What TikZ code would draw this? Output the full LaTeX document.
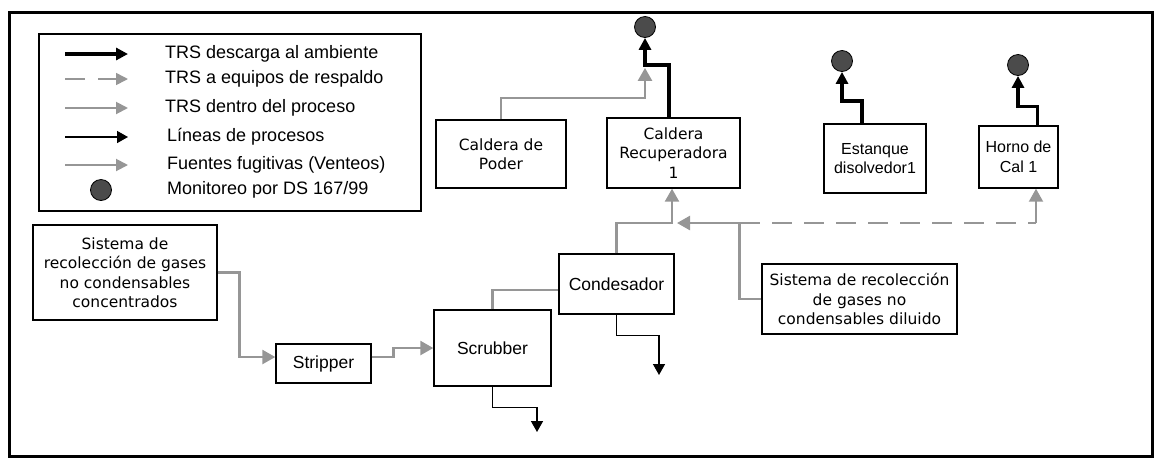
\documentclass[tikz,border=0pt]{standalone}
\usepackage{fontspec}
\setmainfont{Liberation Sans}
\newfontfamily\vfont{DejaVu Sans}
\usetikzlibrary{arrows.meta,calc}
\definecolor{gline}{RGB}{150,150,150}
\definecolor{monc}{RGB}{75,75,75}
\begin{document}
\begin{tikzpicture}[x=1pt,y=-1pt,
  box/.style={draw,line width=1.4pt,inner sep=0pt,align=center},
  vtxt/.style={font=\vfont\fontsize{15.5}{19.5}\selectfont},
  atxt/.style={font=\fontsize{17.5}{20}\selectfont},
  etxt/.style={font=\fontsize{16}{19.5}\selectfont},
  ltxt/.style={font=\fontsize{18}{20}\selectfont,anchor=west,inner sep=0pt},
  monitor/.style={circle,draw=black,line width=0.8pt,fill=monc,minimum size=21pt,inner sep=0pt},
  bk/.style={line width=3.5pt,black,-{Triangle[length=12pt,width=12pt]}},
  gp/.style={line width=2.5pt,gline,-{Triangle[length=13pt,width=14pt]}},
  gpn/.style={line width=2.5pt,gline},
  gd/.style={line width=2pt,gline,dash pattern=on 20pt off 12pt},
  pl/.style={line width=1.5pt,black,-{Triangle[length=11pt,width=12pt]}},
]
\useasboundingbox (0,0) rectangle (1156,459);
\draw[line width=3pt] (9,12) rectangle (1152,456);

% legend
\node[draw,line width=1.8pt,minimum width=382pt,minimum height=177pt,inner sep=0pt] (leg) at (230,122.5) {};
\coordinate (l1a) at (65,54);  \coordinate (l1b) at (128,54);
\coordinate (l2a) at (65,79);  \coordinate (l2b) at (128,79);
\coordinate (l3a) at (65,108); \coordinate (l3b) at (128,108);
\coordinate (l4a) at (65,137); \coordinate (l4b) at (128,137);
\coordinate (l5a) at (65,165); \coordinate (l5b) at (128,165);
\draw[bk] (l1a) -- (l1b);
\draw[line width=1.6pt,gline] (l2a) -- ++(20,0);
\draw[line width=1.6pt,gline,-{Triangle[length=12pt,width=12pt]}] ($(l2a)+(33,0)$) -- (l2b);
\draw[line width=2pt,gline,-{Triangle[length=12pt,width=12pt]}] (l3a) -- (l3b);
\draw[pl] (l4a) -- (l4b);
\draw[line width=2pt,gline,-{Triangle[length=12pt,width=12pt]}] (l5a) -- (l5b);
\node[monitor] (lm) at (101,190) {};
\node[ltxt] (t1) at (165,54) {TRS descarga al ambiente};
\node[ltxt] (t2) at (165,79) {TRS a equipos de respaldo};
\node[ltxt] (t3) at (165,108) {TRS dentro del proceso};
\node[ltxt] (t4) at (167,137) {Líneas de procesos};
\node[ltxt] (t5) at (167,165) {Fuentes fugitivas (Venteos)};
\node[ltxt] (t6) at (167,190) {Monitoreo por DS 167/99};

% boxes
\node[box,vtxt,minimum width=130pt,minimum height=68pt] (cdp) at (501,154) {Caldera de\\Poder};
\node[box,vtxt,minimum width=133pt,minimum height=70pt] (crec) at (673.5,153) {Caldera\\Recuperadora\\1};
\node[box,etxt,minimum width=102pt,minimum height=69pt] (est) at (875,158.5) {Estanque\\disolvedor1};
\node[box,etxt,minimum width=79pt,minimum height=62pt] (hor) at (1018.5,157) {Horno de\\Cal 1};
\node[box,vtxt,minimum width=184pt,minimum height=95pt] (snc) at (125,272.5) {Sistema de\\recolección de gases\\no condensables\\concentrados};
\node[box,atxt,minimum width=95pt,minimum height=39pt] (strp) at (323.5,363.5) {Stripper};
\node[box,atxt,minimum width=117pt,minimum height=76pt] (scr) at (492.5,348) {Scrubber};
\node[box,atxt,minimum width=115pt,minimum height=60pt] (cond) at (616.5,284) {Condesador};
\node[box,vtxt,minimum width=195pt,minimum height=70pt] (sdil) at (859.5,299) {Sistema de recolección\\de gases no\\condensables diluido};

% monitors
\node[monitor] (m1) at (645,27) {};
\node[monitor] (m2) at (842,61) {};
\node[monitor] (m3) at (1018,65) {};

% TRS discharge
\draw[bk] ($(crec.north)+(-4.5,0)$) |- ($(m1.south)+(0,27)$) -- (m1.south);
\draw[bk] ($(est.north)+(-13,0)$) |- ($(m2.south)+(0,29)$) -- (m2.south);
\draw[bk] ($(hor.north)+(19,0)$) |- ($(m3.south)+(0,30.5)$) -- (m3.south);

% TRS within process
\draw[gp] (cdp.north) |- ($(m1.south)+(0,60)$) -- ($(m1.south)+(0,30)$);
\draw[gp] (snc.east) -- ++(22,0) |- ($(strp.west)+(0,-6.5)$);
\draw[gp] ($(strp.east)+(0,-6.5)$) -- ++(22,0) |- (scr.west);
\draw[gpn] (scr.north) |- ($(cond.west)+(0,6)$);
\coordinate (jn) at (672,223);
\coordinate (sj) at (740,223);
\coordinate (hb) at (1036,223);
\draw[gp] (cond.north) |- (jn) -- (jn |- crec.south);
\draw[gp] (sdil.west) -- ++(-22,0) |- ($(jn)+(5,0)$);
\draw[gd] (sj) -- (hb);
\draw[line width=2pt,gline,-{Triangle[length=13pt,width=14pt]}] (hb) -- (hb |- hor.south);

% process lines
\coordinate (p1) at (537,432);
\coordinate (p2) at (659,375);
\draw[pl] (scr.south) -- ++(0,21) -| (p1);
\draw[pl] (cond.south) -- ++(0,21) -| (p2);
\end{tikzpicture}
\end{document}
